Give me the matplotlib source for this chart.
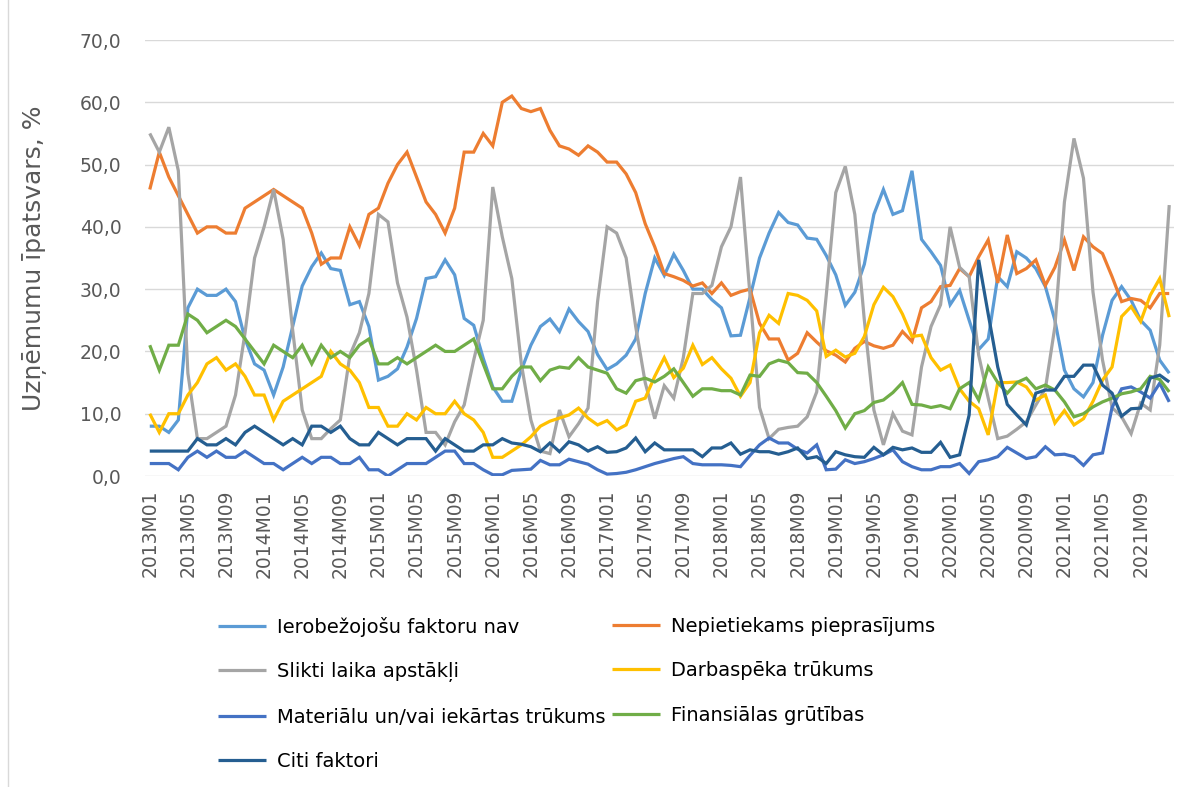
import matplotlib
matplotlib.use("Agg")
import matplotlib.pyplot as plt
from matplotlib.lines import Line2D
from matplotlib.ticker import FuncFormatter, FixedLocator

# ---- data -------------------------------------------------------------
years = list(range(2013, 2022))
months = [f"{y}M{m:02d}" for y in years for m in range(1, 13)]

no_limits = [8, 8, 7, 9, 27, 30, 29, 29, 30, 28, 22, 18, 17, 13,
             17.5, 24, 30.5, 33.6, 35.8, 33.3, 33, 27.5, 28, 24, 15.4, 16, 17.2, 20.7,
             25.3, 31.7, 32, 34.7, 32.3, 25.3, 24.2, 18.9, 14.3, 12, 12, 17, 21,
             24, 25.2, 23.2, 26.8, 24.8, 23.2, 19.5, 17.1, 18, 19.4, 22, 29.3, 35,
             32.2, 35.6, 33, 30, 30, 28.3, 27, 22.5, 22.6, 28.7, 35, 39, 42.3,
             40.7, 40.3, 38.2, 38, 35.4, 32.3, 27.4, 29.5, 34, 42, 46, 42, 42.6, 49,
             38, 36, 33.8, 27.5, 29.8, 25, 20.3, 22, 32, 30.4, 36, 35, 33.3, 30.4,
             25, 17, 14, 12.7, 15, 22.6, 28.2, 30.4, 28.2, 25, 23.4, 18.6, 16.5]

low_demand = [46, 52, 48, 45, 42, 39, 40, 40, 39, 39, 43, 44, 45, 46,
              45, 44, 43, 39, 34, 35, 35, 40, 37, 42, 43, 47, 50, 52,
              48, 44, 42, 39, 43, 52, 52, 55, 53, 60, 61, 59, 58.5,
              59, 55.5, 53, 52.5, 51.5, 53, 52, 50.4, 50.4, 48.5, 45.5, 40.5, 36.8,
              32.5, 32, 31.4, 30.5, 31, 29.3, 31, 29, 29.6, 30, 24.5, 22, 22, 18.6,
              19.7, 23, 21.5, 20.1, 19.4, 18.3, 20.5, 21.6, 20.9, 20.5, 21, 23.2, 21.6,
              27, 28, 30.4, 30.6, 33.3, 32, 35.2, 37.9, 31, 38.7, 32.5, 33.3, 34.7,
              30.6, 33.5, 37.9, 33, 38.4, 36.8, 35.7, 32, 28, 28.5, 28.2, 27, 29.3, 29.3]

weather = [55, 52, 56, 49, 16.5, 6, 6, 7, 8, 13, 23, 35, 40, 46,
           38, 23.4, 10.6, 6, 6, 7.6, 9, 19.4, 23, 29.3, 42, 40.8, 31, 25.5,
           17, 7, 7, 5, 8.7, 11.4, 18.6, 25, 46.4, 38.4, 31.7, 18, 9,
           4, 3.6, 10.6, 6.3, 8.4, 10.9, 28, 40, 39, 35, 24, 15, 9.2, 14.5,
           12.5, 19, 29.3, 29.3, 30.6, 36.8, 40, 48, 29, 11, 6, 7.5, 7.8,
           8, 9.5, 13.5, 29, 45.5, 49.7, 42, 25, 10.6, 5, 10, 7.2, 6.6, 17.5,
           24, 27.5, 40, 33.5, 32, 19.4, 12.5, 6, 6.4, 7.5, 8.7, 11.4, 14, 24,
           44, 54.2, 47.8, 29.5, 18.6, 11, 9.5, 6.8, 11.7, 10.6, 21, 43.5]

labour = [10, 7, 10, 10, 13, 15, 18, 19, 17, 18, 16, 13, 13, 9,
          12, 13, 14, 15, 16, 20, 18, 17, 15, 11, 11, 8, 8, 10,
          9, 11, 10, 10, 12, 10, 9, 7, 3, 3, 4, 5, 6.3,
          8, 8.8, 9.3, 9.8, 10.9, 9.3, 8.2, 8.9, 7.4, 8.2, 12, 12.5, 16, 19,
          15.8, 17.3, 21, 17.9, 19, 17.2, 15.7, 12.8, 15, 23, 25.8, 24.5, 29.3,
          29, 28.2, 26.5, 19.2, 20.2, 19.1, 19.7, 22.4, 27.5, 30.3, 28.8, 26, 22.4, 22.6,
          19, 17, 17.8, 14, 12, 10.8, 6.6, 15, 15, 15.1, 14.3, 12.2, 13, 8.5,
          10.5, 8.2, 9.2, 12, 15.4, 17.5, 25.6, 27.2, 24.8, 29, 31.7, 25.5]

materials = [2, 2, 2, 1, 3, 4, 3, 4, 3, 3, 4, 3, 2, 2,
             1, 2, 3, 2, 3, 3, 2, 2, 3, 1, 1, 0, 1, 2,
             2, 2, 3, 4, 4, 2, 2, 1, 0.2, 0.2, 0.9, 1, 1.1,
             2.5, 1.8, 1.8, 2.7, 2.3, 1.9, 1, 0.3, 0.4, 0.6, 1, 1.5, 2,
             2.4, 2.8, 3.1, 2, 1.8, 1.8, 1.8, 1.7, 1.5, 3.3, 5, 6.1, 5.3,
             5.3, 4.3, 3.7, 5, 1, 1.1, 2.6, 2, 2.3, 2.8, 3.4, 4.2, 2.3, 1.5,
             1, 1, 1.5, 1.5, 2, 0.4, 2.3, 2.6, 3.1, 4.6, 3.7, 2.8, 3.1, 4.7,
             3.4, 3.5, 3.1, 1.7, 3.4, 3.7, 11, 14, 14.3, 13.5, 12.5, 14.9, 11.9]

finance = [21, 17, 21, 21, 26, 25, 23, 24, 25, 24, 22, 20, 18, 21,
           20, 19, 21, 18, 21, 19, 20, 19, 21, 22, 18, 18, 19, 18,
           19, 20, 21, 20, 20, 21, 22, 18, 14, 14, 16, 17.5, 17.5,
           15.3, 17, 17.5, 17.3, 19, 17.5, 17, 16.5, 14, 13.3, 15.3, 15.7, 15.1, 16,
           17.2, 15, 12.8, 14, 14, 13.7, 13.7, 13, 16.2, 16, 18, 18.6, 18.2,
           16.6, 16.5, 15, 12.8, 10.5, 7.7, 10, 10.5, 11.8, 12.2, 13.4, 15, 11.5, 11.4,
           11, 11.3, 10.8, 14, 15, 12.2, 17.5, 15, 13.3, 15, 15.7, 14, 14.6, 13.8,
           11.9, 9.5, 10, 11.1, 11.9, 12.5, 13.2, 13.5, 14, 16, 15.5, 13.5]

other = [4, 4, 4, 4, 4, 6, 5, 5, 6, 5, 7, 8, 7, 6,
         5, 6, 5, 8, 8, 7, 8, 6, 5, 5, 7, 6, 5, 6,
         6, 6, 4, 6, 5, 4, 4, 5, 5, 6, 5.3, 5.1, 4.7,
         3.9, 5.3, 3.9, 5.5, 5, 4, 4.7, 3.8, 3.9, 4.5, 6.1, 3.9, 5.3,
         4.2, 4.2, 4.2, 4.2, 3.1, 4.5, 4.5, 5.3, 3.5, 4.2, 3.9, 3.9, 3.5,
         3.9, 4.5, 2.8, 3.1, 2, 3.9, 3.4, 3.1, 3, 4.6, 3.4, 4.6, 4.2, 4.5,
         3.8, 3.8, 5.4, 3, 3.4, 9.8, 34.7, 26, 17.5, 11.5, 9.8, 8.2, 13.3, 13.8,
         13.8, 16, 16, 17.8, 17.8, 14.6, 13.3, 9.6, 10.8, 10.9, 15.7, 16.2, 15.1]

series = [
    ("Ierobežojošu faktoru nav", no_limits, "#5B9BD5"),
    ("Nepietiekams pieprasījums", low_demand, "#ED7D31"),
    ("Slikti laika apstākļi", weather, "#A5A5A5"),
    ("Darbaspēka trūkums", labour, "#FFC000"),
    ("Materiālu un/vai iekārtas trūkums", materials, "#4472C4"),
    ("Finansiālas grūtības", finance, "#70AD47"),
    ("Citi faktori", other, "#255E91"),
]

y_ticks = [0, 10, 20, 30, 40, 50, 60, 70]
y_label = "Uzņēmumu īpatsvars, %"

# ---- figure ----------------------------------------------------------
W, H = 1195, 787
plt.rcParams['font.family'] = ['DejaVu Sans']
fig = plt.figure(figsize=(W / 100, H / 100), dpi=100)
fig.patch.set_facecolor("white")

ax = fig.add_axes([145 / W, (H - 476) / H, (1174 - 145) / W, (476 - 40) / H])
x = list(range(len(months)))
handles = {}
for name, vals, col in series:
    ln, = ax.plot(x, vals, color=col, lw=2.3, solid_joinstyle='miter',
                  solid_capstyle='butt', label=name)
    handles[name] = ln

ax.set_xlim(-0.5, len(months) - 0.5)
ax.set_ylim(0, 70)
ax.yaxis.set_major_locator(FixedLocator(y_ticks))
ax.yaxis.set_major_formatter(FuncFormatter(lambda v, p: f"{v:.1f}".replace(".", ",")))
tick_pos = list(range(0, len(months), 4))
ax.set_xticks(tick_pos)
ax.set_xticklabels([months[i] for i in tick_pos], rotation=90)
ax.grid(axis='y', color='#D9D9D9', lw=1.0)
ax.set_axisbelow(True)
for s in ax.spines.values():
    s.set_visible(False)
ax.tick_params(axis='both', length=0, labelsize=13.5, labelcolor='#595959')
ax.tick_params(axis='y', pad=17)
ax.tick_params(axis='x', pad=10)

fig.text(35 / W, 1 - 258 / H, y_label, rotation=90, ha='center', va='center',
         fontsize=18, color='#595959')

# legend: two columns placed separately
col1 = ["Ierobežojošu faktoru nav", "Slikti laika apstākļi",
        "Materiālu un/vai iekārtas trūkums", "Citi faktori"]
col2 = ["Nepietiekams pieprasījums", "Darbaspēka trūkums", "Finansiālas grūtības"]
common = dict(frameon=False, fontsize=14, handlelength=2.45, handletextpad=0.6,
              labelspacing=1.3, labelcolor='#000000', borderaxespad=0, borderpad=0)
leg1 = fig.legend([handles[n] for n in col1], col1, loc='upper left',
                  bbox_to_anchor=(218 / W, 1 - 617 / H), **common)
leg2 = fig.legend([handles[n] for n in col2], col2, loc='upper left',
                  bbox_to_anchor=(612 / W, 1 - 617 / H), **common)

fig.add_artist(Line2D([8 / W, 8 / W], [0, 1], color='#D9D9D9', lw=1.0))

fig.savefig("out.png", dpi=100)
